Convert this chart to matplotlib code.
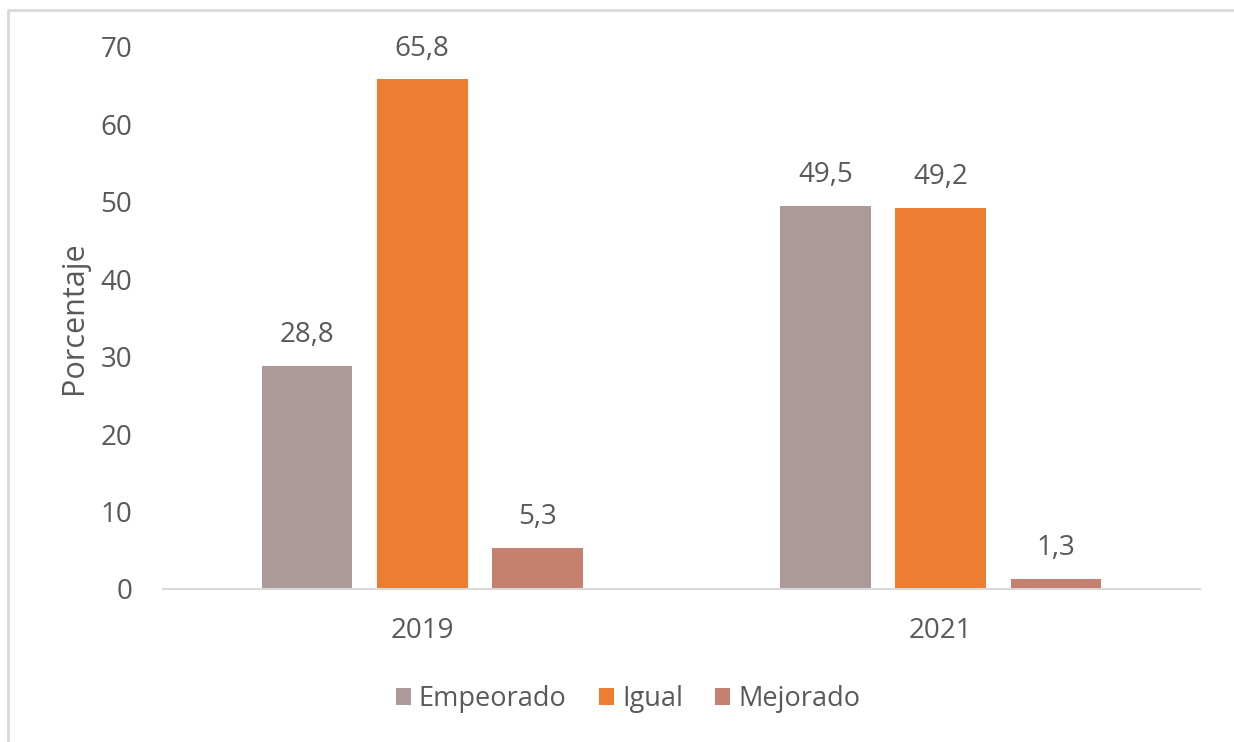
import matplotlib.pyplot as plt
import numpy as np
from matplotlib.patches import Rectangle

years = ['2019', '2021']
series = ['Empeorado', 'Igual', 'Mejorado']
empeorado = [28.8, 49.5]
igual = [65.8, 49.2]
mejorado = [5.3, 1.3]
colors = ['#AC9A99', '#ED7D31', '#C5806F']

plt.rcParams['font.family'] = ['Open Sans', 'DejaVu Sans']
txt = '#595959'

fig = plt.figure(figsize=(12.34, 7.42), dpi=100)
ax = fig.add_axes([0.132, 0.2062, 0.8405, 0.7305])

x = np.arange(len(years))
width = 0.175
step = 0.222
for i, (name, vals) in enumerate(zip(series, [empeorado, igual, mejorado])):
    bars = ax.bar(x + (i - 1) * step, vals, width, color=colors[i], label=name)
    for b, v in zip(bars, vals):
        ax.annotate(('%.1f' % v).replace('.', ','),
                    (b.get_x() + b.get_width() / 2, v),
                    xytext=(0, 22), textcoords='offset points',
                    ha='center', va='center', fontsize=20, color=txt)

ax.set_xlim(-0.5, 1.5)
ax.set_ylim(0, 70)
ax.set_yticks(range(0, 71, 10))
ax.set_xticks(x)
ax.set_xticklabels(years)
ax.tick_params(axis='both', length=0, labelsize=20, labelcolor=txt)
ax.tick_params(axis='y', pad=22)
ax.tick_params(axis='x', pad=20)
for s in ['top', 'right', 'left']:
    ax.spines[s].set_visible(False)
ax.spines['bottom'].set_color('#D9D9D9')
ax.spines['bottom'].set_linewidth(1.5)
ax.set_ylabel('Porcentaje', fontsize=22, color=txt, labelpad=8)

fig.legend(loc='center', bbox_to_anchor=(0.509, 0.058), ncol=3, frameon=False,
           fontsize=19.5, labelcolor=txt, handlelength=0.55, handleheight=0.55,
           handletextpad=0.3, columnspacing=1.2)

# chart area border (only top and left edges visible)
fig.patches.append(Rectangle((8 / 1234, -0.1), 1.2, 1 - 10 / 742 + 0.1,
                             transform=fig.transFigure, fill=False,
                             edgecolor='#D9D9D9', linewidth=2))

fig.savefig('out.png', dpi=100)
